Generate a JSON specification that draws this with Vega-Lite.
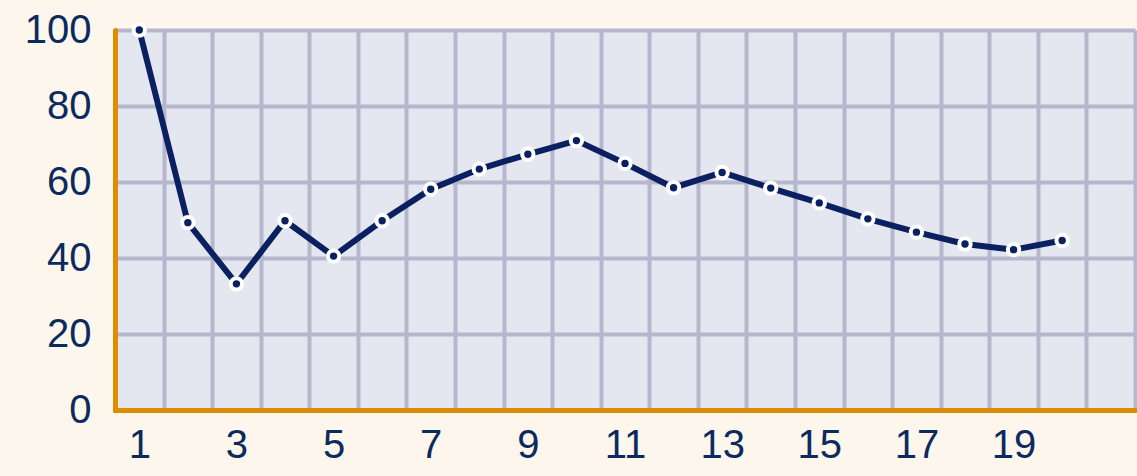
{
  "$schema": "https://vega.github.io/schema/vega-lite/v6.json",
  "width": 1020,
  "height": 380,
  "autosize": {"type": "none"},
  "padding": {"left": 115, "top": 30, "right": 2, "bottom": 66},
  "background": "#fdf6ec",
  "config": {"view": {"fill": "#e4e7ef", "stroke": null}, "font": "Liberation Sans"},
  "data": {"values": [
    {"x": 1, "y": 100}, {"x": 2, "y": 49.3}, {"x": 3, "y": 33.2}, {"x": 4, "y": 49.8},
    {"x": 5, "y": 40.5}, {"x": 6, "y": 49.8}, {"x": 7, "y": 58.1}, {"x": 8, "y": 63.4},
    {"x": 9, "y": 67.3}, {"x": 10, "y": 70.9}, {"x": 11, "y": 64.9}, {"x": 12, "y": 58.5},
    {"x": 13, "y": 62.5}, {"x": 14, "y": 58.4}, {"x": 15, "y": 54.5}, {"x": 16, "y": 50.3},
    {"x": 17, "y": 46.8}, {"x": 18, "y": 43.7}, {"x": 19, "y": 42.2}, {"x": 20, "y": 44.6}
  ]},
  "encoding": {
    "x": {
      "field": "x", "type": "quantitative",
      "scale": {"domain": [0.5, 21.5], "nice": false, "zero": false},
      "axis": {
        "values": [1, 1.5, 2, 2.5, 3, 3.5, 4, 4.5, 5, 5.5, 6, 6.5, 7, 7.5, 8, 8.5, 9, 9.5, 10, 10.5, 11, 11.5, 12, 12.5, 13, 13.5, 14, 14.5, 15, 15.5, 16, 16.5, 17, 17.5, 18, 18.5, 19, 19.5, 20, 20.5, 21, 21.5],
        "title": null,
        "grid": true,
        "gridColor": "#b6b6cd",
        "gridWidth": 4,
        "gridOpacity": {"condition": {"test": "datum.value % 1 === 0", "value": 0}, "value": 1},
        "ticks": false,
        "domainColor": "#e08b00",
        "domainWidth": 5,
        "domainCap": "round",
        "labelFontSize": 40,
        "labelColor": "#0b2a5e",
        "labelPadding": 15,
        "labelFlush": false,
        "labelOverlap": false,
        "labelExpr": "(datum.value % 2 === 1 && datum.value < 20) ? '' + datum.value : ''"
      }
    },
    "y": {
      "field": "y", "type": "quantitative",
      "scale": {"domain": [0, 100], "nice": false},
      "axis": {
        "values": [0, 20, 40, 60, 80, 100],
        "title": null,
        "grid": true,
        "gridColor": "#b6b6cd",
        "gridWidth": 4,
        "ticks": false,
        "domainColor": "#e08b00",
        "domainWidth": 5,
        "domainCap": "round",
        "labelFontSize": 40,
        "labelColor": "#0b2a5e",
        "labelPadding": 24
      }
    }
  },
  "layer": [
    {"mark": {"type": "line", "color": "#0a2060", "strokeWidth": 6}},
    {"mark": {"type": "point", "filled": true, "fill": "#0a2060", "stroke": "white", "strokeWidth": 4, "size": 130, "opacity": 1}}
  ]
}
